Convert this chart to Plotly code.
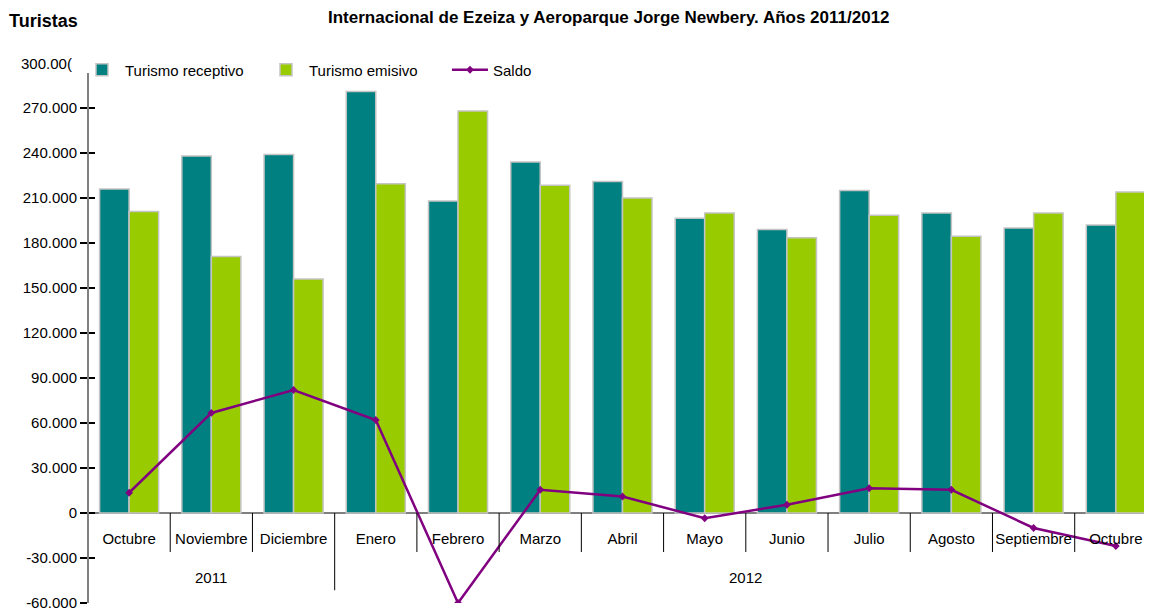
import plotly.graph_objects as go

months = ["Octubre", "Noviembre", "Diciembre", "Enero", "Febrero", "Marzo", "Abril",
          "Mayo", "Junio", "Julio", "Agosto", "Septiembre", "Octubre"]
years = ["2011", "2012"]
receptivo = [216000, 238000, 239000, 281000, 208000, 234000, 221000,
             196500, 189000, 215000, 200000, 190000, 192000]
emisivo = [201000, 171000, 156000, 219500, 268000, 218500, 210000,
           200000, 183500, 198500, 184500, 200000, 214000]
saldo = [13500, 66700, 82000, 62000, -60000, 15500, 11000,
         -3500, 5500, 16500, 15500, -10000, -22000]
ytick_vals = [-60000, -30000, 0, 30000, 60000, 90000, 120000, 150000, 180000, 210000, 240000, 270000]
ytick_text = ["-60.000", "-30.000", "0", "30.000", "60.000", "90.000", "120.000",
              "150.000", "180.000", "210.000", "240.000", "270.000"]

FONT = "Liberation Sans, Arial, sans-serif"
xs = list(range(len(months)))
ymin, ymax = -60000, 305333
axis_top = 293333
xmin, xmax = -0.5, 12.44

W, H = 1152, 610
OFF = 8  # page body margin: screen px = figure px + OFF
PLOT_TOP, PLOT_BOTTOM, PLOT_LEFT, PLOT_W = 55 - OFF, 603 - OFF, 88 - OFF, 1064
PLOT_H = PLOT_BOTTOM - PLOT_TOP


def py(p):  # p in screen pixels
    return (PLOT_BOTTOM - (p - OFF)) / PLOT_H


def px(p):
    return ((p - OFF) - PLOT_LEFT) / PLOT_W


fig = go.Figure()
fig.add_trace(go.Bar(x=xs, y=receptivo, name="Turismo receptivo",
                     marker=dict(color="#008080", line=dict(color="#c4c4c4", width=1.5))))
fig.add_trace(go.Bar(x=xs, y=emisivo, name="Turismo emisivo",
                     marker=dict(color="#99cc00", line=dict(color="#c4c4c4", width=1.5))))
fig.add_trace(go.Scatter(x=xs, y=saldo, name="Saldo", mode="lines+markers",
                         line=dict(color="#800080", width=2.5),
                         marker=dict(symbol="diamond", size=6, color="#800080")))
# overlay axis only to draw inner half of the crossing ticks
fig.add_trace(go.Scatter(x=[None], y=[None], yaxis="y2", showlegend=False, hoverinfo="skip"))

zero_pos = (0 - ymin) / (ymax - ymin)

shapes = [dict(type="line", xref="paper", yref="y", x0=0, x1=0, y0=ymin, y1=axis_top,
               line=dict(color="#808080", width=2), layer="above")]
for i in range(1, len(months)):
    b = i - 0.5
    long = (i == 3)
    shapes.append(dict(type="line", xref="x", yref="y", x0=b, x1=b, y0=0,
                       y1=-51500 if long else -26000,
                       line=dict(color="#000000", width=1)))

annotations = [
    dict(text="<b>Internacional de Ezeiza y Aeroparque Jorge Newbery. Años 2011/2012</b>",
         xref="paper", yref="paper", x=px(609), y=py(17),
         xanchor="center", yanchor="middle", showarrow=False,
         font=dict(family=FONT, size=17, color="#000000")),
    dict(text="<b>Turistas</b>", xref="paper", yref="paper",
         x=px(7), y=py(21), xanchor="left", yanchor="middle",
         showarrow=False, font=dict(family=FONT, size=18, color="#000000")),
    dict(text="300.00(", xref="paper", yref="y", x=px(74), y=300000,
         xanchor="right", yanchor="middle", showarrow=False,
         font=dict(family=FONT, size=15, color="#000000")),
    dict(text=years[0], xref="x", yref="y", x=1, y=-42700, showarrow=False,
         xanchor="center", yanchor="middle", font=dict(family=FONT, size=15, color="#000000")),
    dict(text=years[1], xref="x", yref="y", x=7.5, y=-42700, showarrow=False,
         xanchor="center", yanchor="middle", font=dict(family=FONT, size=15, color="#000000")),
]

fig.update_layout(
    width=W, height=H,
    margin=dict(l=PLOT_LEFT, r=W - PLOT_LEFT - PLOT_W, t=PLOT_TOP, b=H - PLOT_BOTTOM,
                autoexpand=False),
    paper_bgcolor="white", plot_bgcolor="white",
    font=dict(family=FONT, size=15, color="#000000"),
    barmode="group", bargap=0.282, bargroupgap=0,
    showlegend=True,
    legend=dict(orientation="h", x=px(79), xanchor="left", y=py(70), yanchor="middle",
                font=dict(family=FONT, size=15, color="#000000"),
                entrywidth=133, entrywidthmode="pixels", bgcolor="rgba(0,0,0,0)",
                itemwidth=36, tracegroupgap=0),
    xaxis=dict(range=[xmin, xmax], tickmode="array", tickvals=xs, ticktext=months,
               anchor="free", position=zero_pos, showline=False, showgrid=False,
               zeroline=False, ticks="outside", ticklen=12, tickcolor="rgba(0,0,0,0)",
               automargin=False, fixedrange=True,
               tickfont=dict(family=FONT, size=15, color="#000000")),
    yaxis=dict(range=[ymin, ymax], tickmode="array", tickvals=ytick_vals, ticktext=ytick_text,
               showgrid=False, showline=False,
               zeroline=True, zerolinecolor="#808080", zerolinewidth=2,
               ticks="outside", ticklen=7, tickcolor="#000000", tickwidth=1.5,
               automargin=False, fixedrange=True,
               tickfont=dict(family=FONT, size=15, color="#000000")),
    yaxis2=dict(range=[ymin, ymax], overlaying="y", side="left", anchor="x",
                tickmode="array", tickvals=ytick_vals, showticklabels=False,
                showgrid=False, showline=False, zeroline=False, automargin=False,
                ticks="inside", ticklen=7, tickcolor="#000000", tickwidth=1.5),
    shapes=shapes,
    annotations=annotations,
)

fig.write_html("out.html")
